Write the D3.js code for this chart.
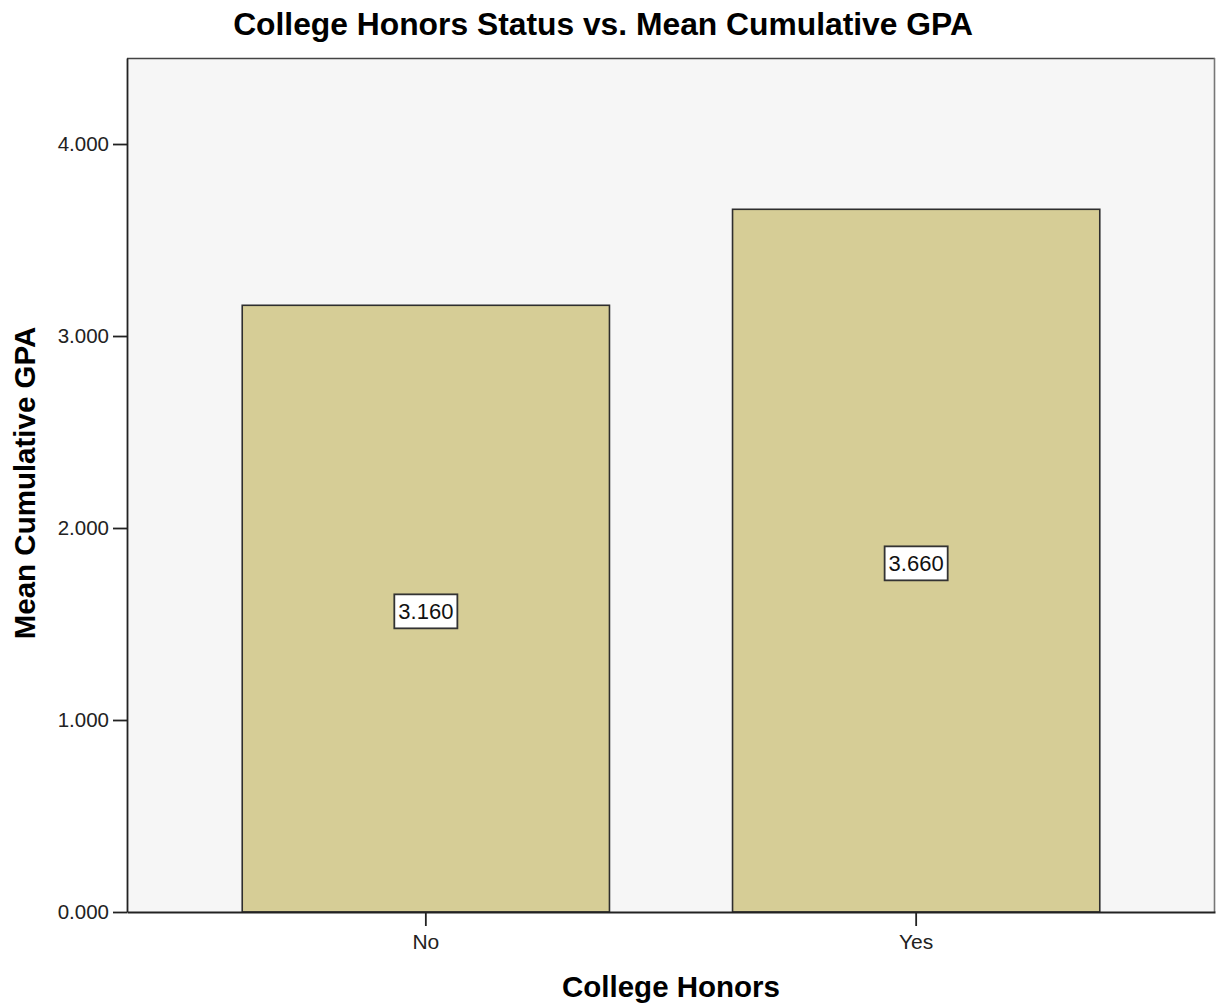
<!DOCTYPE html>
<html>
<head>
<meta charset="utf-8">
<script src="https://cdn.jsdelivr.net/npm/d3@7"></script>
<style>
  html, body { margin: 0; padding: 0; background: #ffffff; }
  svg { display: block; font-family: "Liberation Sans", Arial, sans-serif; }
</style>
</head>
<body>
<svg id="chart" width="1217" height="1006"></svg>
<script>
// Mean cumulative GPA by college honors status
const categories = ["No", "Yes"];
const meanGPA = [3.160, 3.660];
const yTicks = [0, 1, 2, 3, 4];

const svg = d3.select("#chart");
const plot = { left: 127, right: 1215, top: 58, bottom: 912 };

const x = d3.scaleBand()
  .domain(categories)
  .range([plot.left, plot.right])
  .paddingInner(0.251)
  .paddingOuter(0.235);

const y = d3.scaleLinear()
  .domain([0, 4.448])
  .range([plot.bottom, plot.top]);

// Plot background and frame
svg.append("rect")
  .attr("x", plot.left).attr("y", plot.top)
  .attr("width", plot.right - plot.left)
  .attr("height", plot.bottom - plot.top)
  .attr("fill", "#f6f6f6");
svg.append("line")
  .attr("x1", plot.left).attr("x2", plot.right)
  .attr("y1", plot.top + 0.5).attr("y2", plot.top + 0.5)
  .attr("stroke", "#444").attr("stroke-width", 1.6);
svg.append("line")
  .attr("x1", plot.right - 0.5).attr("x2", plot.right - 0.5)
  .attr("y1", plot.top).attr("y2", plot.bottom)
  .attr("stroke", "#777").attr("stroke-width", 1.6);

// Bars
const data = categories.map((c, i) => ({ cat: c, value: meanGPA[i] }));
svg.append("g").selectAll("rect")
  .data(data)
  .join("rect")
  .attr("x", d => x(d.cat))
  .attr("y", d => y(d.value))
  .attr("width", x.bandwidth())
  .attr("height", d => y(0) - y(d.value))
  .attr("fill", "#d6cd96")
  .attr("stroke", "#2e2e2e")
  .attr("stroke-width", 1.6);

// Y axis
const yAxis = svg.append("g")
  .attr("transform", `translate(${plot.left},0)`)
  .call(d3.axisLeft(y).tickValues(yTicks).tickFormat(d3.format(".3f"))
    .tickSize(14).tickSizeOuter(0).tickPadding(4));
yAxis.select(".domain").attr("stroke", "#222").attr("stroke-width", 1.8);
yAxis.selectAll(".tick line").attr("stroke", "#222").attr("stroke-width", 1.8);
yAxis.selectAll(".tick text")
  .attr("font-size", 20.5).attr("fill", "#222")
  .attr("font-family", "Liberation Sans, Arial, sans-serif");

// X axis
const xAxis = svg.append("g")
  .attr("transform", `translate(0,${plot.bottom})`)
  .call(d3.axisBottom(x).tickSize(14).tickPadding(8).tickSizeOuter(0));
xAxis.select(".domain").attr("stroke", "#222").attr("stroke-width", 2);
xAxis.selectAll(".tick line").attr("stroke", "#222").attr("stroke-width", 1.8);
xAxis.selectAll(".tick text")
  .attr("font-size", 21).attr("fill", "#222")
  .attr("font-family", "Liberation Sans, Arial, sans-serif");

// Value labels in boxes at mid-bar
const labels = svg.append("g").selectAll("g")
  .data(data)
  .join("g")
  .attr("transform", d => `translate(${x(d.cat) + x.bandwidth() / 2},${y(d.value / 2) + 3})`);
labels.append("text")
  .attr("text-anchor", "middle")
  .attr("dy", "0.35em")
  .attr("font-size", 22)
  .attr("fill", "#111")
  .text(d => d3.format(".3f")(d.value));
labels.each(function () {
  const g = d3.select(this);
  const bb = g.select("text").node().getBBox();
  g.insert("rect", "text")
    .attr("x", bb.x - 4).attr("y", bb.y - 5)
    .attr("width", bb.width + 8).attr("height", bb.height + 9)
    .attr("fill", "#ffffff")
    .attr("stroke", "#333")
    .attr("stroke-width", 1.8);
});

// Titles
svg.append("text")
  .attr("x", 603).attr("y", 35)
  .attr("text-anchor", "middle")
  .attr("font-size", 31.8).attr("font-weight", "bold").attr("fill", "#000")
  .text("College Honors Status vs. Mean Cumulative GPA");
svg.append("text")
  .attr("x", 671).attr("y", 997)
  .attr("text-anchor", "middle")
  .attr("font-size", 29.5).attr("font-weight", "bold").attr("fill", "#000")
  .text("College Honors");
svg.append("text")
  .attr("transform", "translate(35,483) rotate(-90)")
  .attr("text-anchor", "middle")
  .attr("font-size", 29.5).attr("font-weight", "bold").attr("fill", "#000")
  .text("Mean Cumulative GPA");
</script>
</body>
</html>
